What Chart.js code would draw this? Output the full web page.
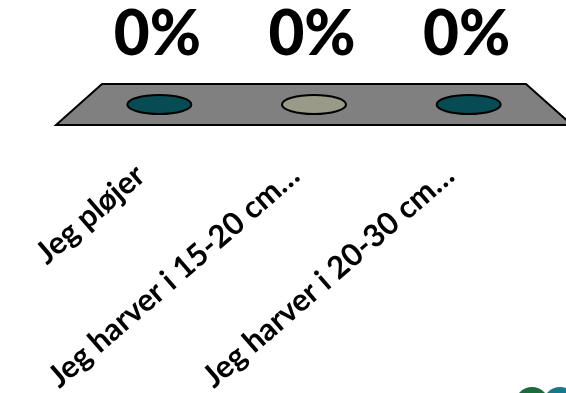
<!DOCTYPE html>
<html>
<head>
<meta charset="utf-8">
<script src="https://cdn.jsdelivr.net/npm/chart.js@4"></script>
<style>
  html, body { margin: 0; padding: 0; background: #fff; }
  #wrap { width: 566px; height: 393px; position: relative; }
</style>
</head>
<body>
<div id="wrap"><canvas id="floorChart"></canvas></div>
<script>
// data
const categories = ['Jeg pløjer', 'Jeg harver i 15-20 cm…', 'Jeg harver i 20-30 cm…'];
const shares = [0, 0, 0];
const discColors = ['#074c54', '#9a9a88', '#074c54'];

// floor + discs + percentage labels (3D-look)
const floorPlugin = {
    id: 'floor3d',
    beforeDatasetsDraw(chart) {
        const a = chart.chartArea;
        const ctx = chart.ctx;
        const back = 20, front = 26;
        ctx.save();
        ctx.beginPath();
        ctx.moveTo(a.left + back, a.top);
        ctx.lineTo(a.right - back, a.top);
        ctx.lineTo(a.right + front, a.bottom);
        ctx.lineTo(a.left - front, a.bottom);
        ctx.closePath();
        ctx.fillStyle = '#808080';
        ctx.fill();
        ctx.lineWidth = 2;
        ctx.strokeStyle = '#000';
        ctx.stroke();
        ctx.restore();
    },
    afterDatasetsDraw(chart) {
        const ctx = chart.ctx;
        const meta = chart.getDatasetMeta(0);
        ctx.save();
        meta.data.forEach((bar, i) => {
            const rx = bar.width / 2, ry = 9.5;
            ctx.beginPath();
            ctx.ellipse(bar.x, bar.y, rx, ry, 0, 0, Math.PI * 2);
            ctx.fillStyle = discColors[i];
            ctx.fill();
            ctx.lineWidth = 2;
            ctx.strokeStyle = '#000';
            ctx.stroke();

            ctx.fillStyle = '#000';
            ctx.font = '900 62px Lato';
            ctx.textAlign = 'center';
            ctx.textBaseline = 'middle';
            ctx.fillText(shares[i] + '%', bar.x - 2, bar.y - 70);
        });
        ctx.restore();
    },
    afterDraw(chart) {
        // bit of the logo peeking in at the bottom right
        const ctx = chart.ctx;
        ctx.save();
        ctx.beginPath();
        ctx.arc(532, 404, 17, 0, Math.PI * 2);
        ctx.fillStyle = '#1d6a3c';
        ctx.fill();
        ctx.beginPath();
        ctx.arc(560, 404, 17, 0, Math.PI * 2);
        ctx.fillStyle = '#18788a';
        ctx.fill();
        ctx.restore();
    }
};

new Chart(document.getElementById('floorChart'), {
    type: 'bar',
    data: {
        labels: categories,
        datasets: [{
            data: shares,
            backgroundColor: discColors,
            borderWidth: 0,
            barPercentage: 0.46,
            categoryPercentage: 0.9
        }]
    },
    options: {
        responsive: true,
        maintainAspectRatio: false,
        animation: false,
        events: [],
        layout: { padding: { left: 82, right: 20, top: 84, bottom: 0 } },
        plugins: {
            legend: { display: false },
            tooltip: { enabled: false }
        },
        scales: {
            x: {
                grid: { display: false },
                border: { display: false },
                afterFit: s => { s.height = 268; },
                ticks: {
                    minRotation: 41,
                    maxRotation: 41,
                    padding: 24,
                    labelOffset: -19,
                    color: '#000',
                    font: { family: 'Lato', weight: 'bold', size: 31 }
                }
            },
            y: {
                display: false,
                min: -1,
                max: 1
            }
        }
    },
    plugins: [floorPlugin]
});
</script>
</body>
</html>
